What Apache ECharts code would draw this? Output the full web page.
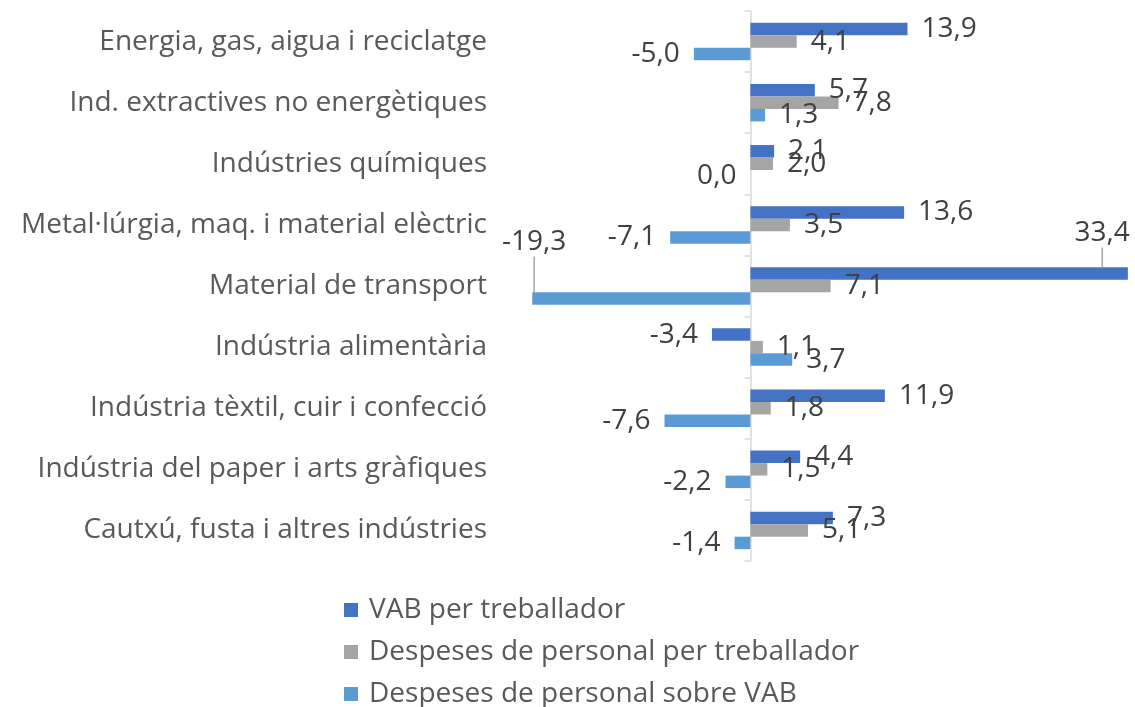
<!DOCTYPE html>
<html>
<head>
<meta charset="utf-8">
<script src="https://cdn.jsdelivr.net/npm/echarts@6/dist/echarts.min.js"></script>
<style>
  html, body { margin: 0; padding: 0; background: #fff; }
  #chart { width: 1135px; height: 707px; }
</style>
</head>
<body>
<div id="chart"></div>
<script>
// sectors, top to bottom
var categories = [
  "Energia, gas, aigua i reciclatge",
  "Ind. extractives no energètiques",
  "Indústries químiques",
  "Metal·lúrgia, maq. i material elèctric",
  "Material de transport",
  "Indústria alimentària",
  "Indústria tèxtil, cuir i confecció",
  "Indústria del paper i arts gràfiques",
  "Cautxú, fusta i altres indústries"
];
var seriesNames = [
  "VAB per treballador",
  "Despeses de personal per treballador",
  "Despeses de personal sobre VAB"
];
var vabTreballador = [13.9, 5.7, 2.1, 13.6, 33.4, -3.4, 11.9, 4.4, 7.3];
var despesesTreballador = [4.1, 7.8, 2.0, 3.5, 7.1, 1.1, 1.8, 1.5, 5.1];
var despesesSobreVab = [-5.0, 1.3, 0.0, -7.1, -19.3, 3.7, -7.6, -2.2, -1.4];
var colors = ["#4472C4", "#A5A5A5", "#5B9BD5"];

var fmt = function (v) { return v.toFixed(1).replace(".", ","); };

// the two long bars (Material de transport) have their labels lifted, with a leader line
function isMoved(s, i) {
  return i === 4 && (s === 0 || s === 2);
}

// label to the right for positive values, to the left otherwise (0,0 sits on the left too)
function withLabels(s, values) {
  return values.map(function (v, i) {
    return {
      value: v,
      label: { position: v > 0 ? "right" : "left" },
      labelLine: { show: isMoved(s, i) }
    };
  });
}

function makeSeries(s, values) {
  return {
    name: seriesNames[s],
    type: "bar",
    yAxisIndex: 0,
    barWidth: 12.5,
    barGap: "0%",
    itemStyle: { color: colors[s] },
    label: {
      show: true,
      distance: 14,
      fontSize: 28,
      color: "#404040",
      fontFamily: "Open Sans",
      formatter: function (p) { return fmt(p.value); }
    },
    labelLine: { show: false, lineStyle: { color: "#A6A6A6", width: 1.5 } },
    data: withLabels(s, values)
  };
}

var chart = echarts.init(document.getElementById("chart"));
var option = {
  animation: false,
  textStyle: { fontFamily: "Open Sans" },
  grid: { left: 530, right: 6, top: 11, height: 550 },
  legend: {
    orient: "vertical",
    left: 344,
    top: 596,
    height: 160,
    padding: 0,
    itemWidth: 14,
    itemHeight: 14,
    itemGap: 14,
    icon: "rect",
    textStyle: { fontSize: 28, color: "#595959", fontFamily: "Open Sans", padding: [0, 0, 0, 6] },
    data: seriesNames
  },
  xAxis: {
    type: "value",
    min: -19.5,
    max: 33.5,
    axisLine: { show: false },
    axisTick: { show: false },
    axisLabel: { show: false },
    splitLine: { show: false }
  },
  yAxis: [
    {
      // sector names, held at the left edge
      type: "category",
      inverse: true,
      data: categories,
      axisLine: { show: false, onZero: false },
      axisTick: { show: false },
      axisLabel: { margin: 43, fontSize: 28, color: "#595959", fontFamily: "Open Sans" }
    },
    {
      // the line through zero with its ticks
      type: "category",
      inverse: true,
      position: "left",
      data: categories,
      axisLine: { show: true, onZero: true, lineStyle: { color: "#D9D9D9", width: 1.5 } },
      axisTick: { show: true, length: 6, lineStyle: { color: "#D9D9D9", width: 1.5 } },
      axisLabel: { show: false }
    }
  ],
  series: [
    makeSeries(0, vabTreballador),
    makeSeries(1, despesesTreballador),
    makeSeries(2, despesesSobreVab)
  ],
  labelLayout: function (p) {
    if (!isMoved(p.seriesIndex, p.dataIndex)) return {};
    var cy = p.rect.y + p.rect.height / 2;
    if (p.seriesIndex === 0) {
      return { x: p.rect.x + p.rect.width + 2, y: cy - 40, align: "right", verticalAlign: "middle" };
    }
    return { x: p.rect.x + 34, y: cy - 56, align: "right", verticalAlign: "middle" };
  }
};
chart.setOption(option);
</script>
</body>
</html>
